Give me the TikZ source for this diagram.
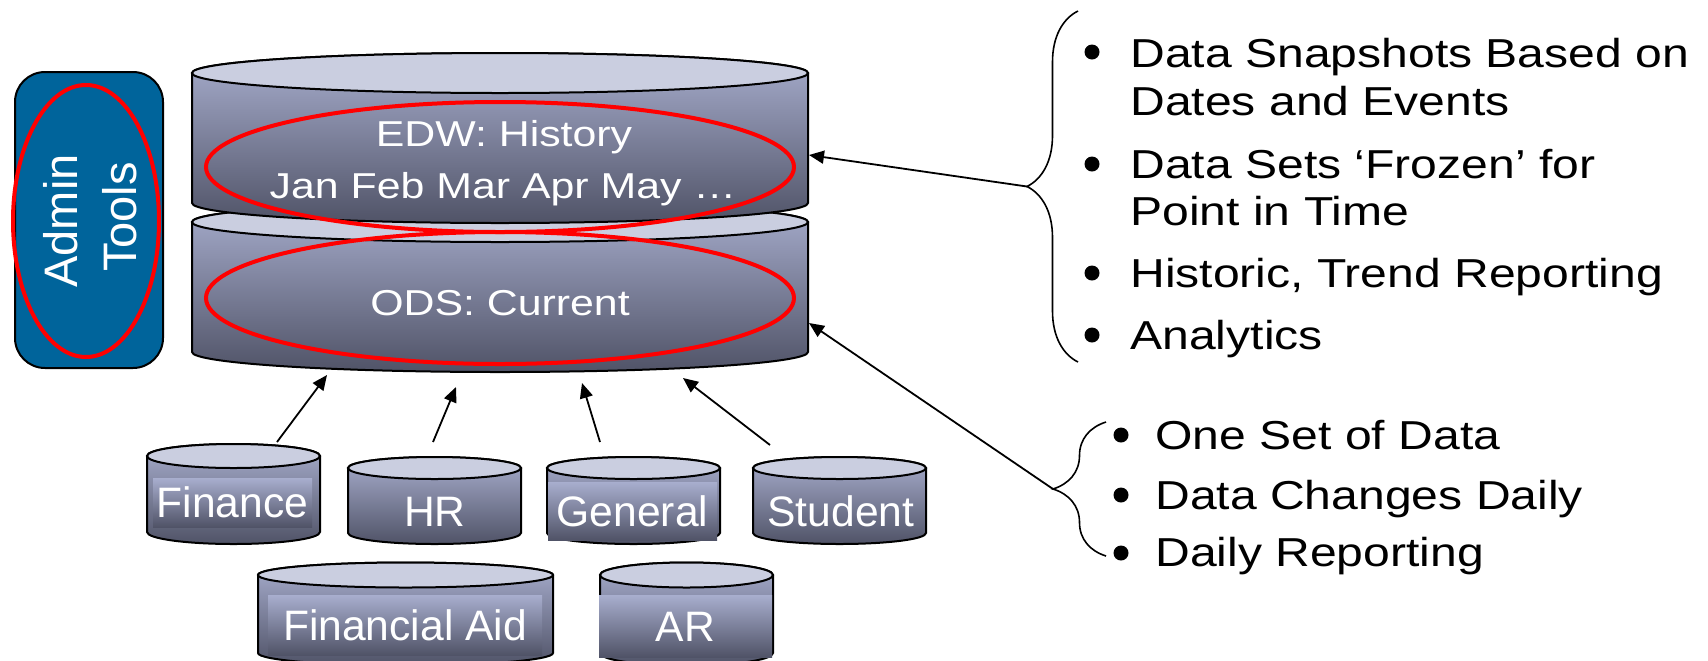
\documentclass[tikz,border=0pt]{standalone}
\usepackage{fontspec}
\setmainfont{Liberation Sans}
\newfontfamily\widefont{Liberation Sans}[FakeStretch=1.19]
\usetikzlibrary{arrows.meta,decorations.pathreplacing}

\definecolor{drumlid}{RGB}{202,206,224}
\definecolor{drumhi}{RGB}{168,174,206}
\definecolor{drumlo}{RGB}{80,83,103}
\definecolor{adminblue}{RGB}{0,100,155}

% one drum: centre x, lid y, x radius, y radius, side height
\newcommand{\dbdrum}[5]{%
  \path[drumside] ({#1-#3},#2) -- ({#1-#3},{#2+#5})
    arc[start angle=180, end angle=0, x radius=#3, y radius=#4]
    -- ({#1+#3},#2)
    arc[start angle=0, end angle=-180, x radius=#3, y radius=#4] -- cycle;
  \path[drumtop] (#1,#2) ellipse[x radius=#3, y radius=#4];
}

\begin{document}
\begin{tikzpicture}
      [x = 0.5pt, y = -0.5pt,
      drumside/.style={draw, line width = 1pt, top color = drumhi, bottom color = drumlo},
      drumtop/.style={draw, line width = 1pt, fill = drumlid},
      ring/.style={draw = red, line width = 2pt},
      feed/.style={-{Triangle[length = 7.5pt, width = 6.5pt]}, line width = 0.9pt},
      curly/.style={decorate, decoration = {brace, amplitude = #1}, line width = 0.8pt},
      dot/.style= {
         fill = black,
         circle,
         inner sep = 0pt,
         minimum size = 7.5pt
      },
      listtext/.style={font = \widefont\fontsize{20.2}{23}\selectfont, inner sep = 0pt, anchor = base west},
      bigtext/.style={text = white, font = \widefont\fontsize{18}{21}\selectfont, inner sep = 0pt, anchor = base},
      tag/.style={text = white, font = \fontsize{21.3}{24}\selectfont, inner sep = 0pt,
         text height = 15.3pt, text depth = 0pt},
      tagbox/.style={tag, top color = drumhi, bottom color = drumlo},
      admintext/.style={text = white, font = \fontsize{23.5}{28}\selectfont, inner sep = 0pt,
         rotate = 90, anchor = base},
      adminbox/.style={draw, line width = 1pt, fill = adminblue, rounded corners = 15pt,
         minimum width = 74pt, minimum height = 148pt, inner sep = 0pt}]
      \useasboundingbox (0,0) rectangle (1708,660);

      % admin tools
      \node[adminbox] (adminbox) at (89,220) {};
      \node[admintext] (admin) at (77,221) {Admin};
      \node[admintext] (tools) at (136,217) {Tools};
      \draw[ring] (86,221) ellipse[x radius = 73, y radius = 136];

      % warehouse drums
      \dbdrum{500}{222}{308}{20}{130}
      \dbdrum{500}{73}{308}{20}{130}
      \draw[ring] (500,298) ellipse[x radius = 294, y radius = 66];
      \draw[ring] (500,167) ellipse[x radius = 294, y radius = 65];
      \node[bigtext] (edw) at (504,146) {EDW: History};
      \node[bigtext] (months) at (503,198) {Jan Feb Mar Apr May …};
      \node[bigtext] (ods) at (500,315) {ODS: Current};

      % source drums
      \dbdrum{233.5}{456}{86.5}{12}{76}
      \dbdrum{434.5}{468}{86.5}{11}{65}
      \dbdrum{633.5}{468}{86.5}{11}{65}
      \dbdrum{839.5}{468}{86.5}{11}{65}
      \dbdrum{405.5}{575}{147.5}{12.5}{78}
      \dbdrum{686.5}{575}{86.5}{12.5}{78}
      \node[tagbox, minimum width = 79.5pt, minimum height = 24.5pt] (finance) at (232.5,502.5) {Finance};
      \node[tag] (hr) at (435,511) {HR};
      \node[tagbox, minimum width = 84.5pt, minimum height = 29pt] (general) at (632.5,511) {General};
      \node[tag] (student) at (841,511) {Student};
      \node[tagbox, minimum width = 137pt, minimum height = 30pt] (finaid) at (405,625) {Financial Aid};
      \node[tagbox, minimum width = 86.5pt, minimum height = 31pt] (ar) at (685.5,626) {AR};

      % feeds into the ODS
      \coordinate (finout) at (277,442);
      \coordinate (finin) at (327,375);
      \coordinate (hrout) at (433,442);
      \coordinate (hrin) at (456,387);
      \coordinate (genout) at (600,442);
      \coordinate (genin) at (582,383);
      \coordinate (stuout) at (770,445);
      \coordinate (stuin) at (683,378);
      \draw[feed] (finout) -- (finin);
      \draw[feed] (hrout) -- (hrin);
      \draw[feed] (genout) -- (genin);
      \draw[feed] (stuout) -- (stuin);

      % history list
      \draw[curly = 25.5pt] (1078,362) -- (1078,11);
      \node[dot] (h1) at (1092,52) {};
      \node[listtext] (snapa) at (1130,67) {Data Snapshots Based on};
      \node[listtext] (snapb) at (1130,115) {Dates and Events};
      \node[dot] (h2) at (1092,164) {};
      \node[listtext] (frozena) at (1130,178) {Data Sets ‘Frozen’ for};
      \node[listtext] (frozenb) at (1130,225) {Point in Time};
      \node[dot] (h3) at (1092,273) {};
      \node[listtext] (trend) at (1130,287) {Historic, Trend Reporting};
      \node[dot] (h4) at (1092,335) {};
      \node[listtext] (analytics) at (1130,349) {Analytics};

      % daily list
      \draw[curly = 26.5pt] (1106,556) -- (1106,422);
      \node[dot] (c1) at (1121,435) {};
      \node[listtext] (oneset) at (1155,449) {One Set of Data};
      \node[dot] (c2) at (1121,495) {};
      \node[listtext] (changes) at (1155,509) {Data Changes Daily};
      \node[dot] (c3) at (1121,553) {};
      \node[listtext] (daily) at (1155,566) {Daily Reporting};

      \coordinate (histcusp) at (1027,186.5);
      \coordinate (edwin) at (809,155);
      \coordinate (dailycusp) at (1053,489);
      \coordinate (odsin) at (809,323);
      \draw[feed] (histcusp) -- (edwin);
      \draw[feed] (dailycusp) -- (odsin);
\end{tikzpicture}
\end{document}
